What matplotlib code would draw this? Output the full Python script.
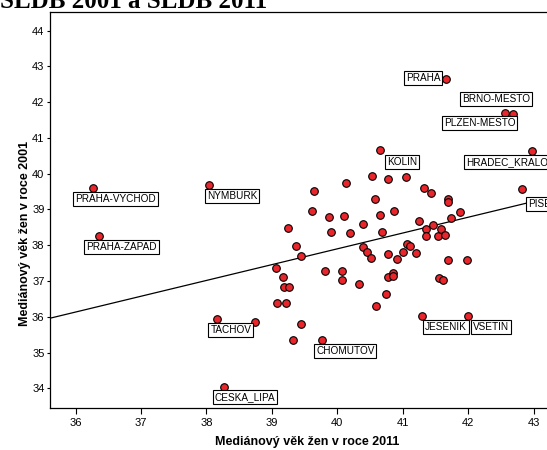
"""
Scatter of district median age of women: 2011 census vs 2001 census,
with a linear fit and labelled outlier districts.
"""

import numpy as np
import matplotlib
matplotlib.use("Agg")
import matplotlib.pyplot as plt

# median age of women per district
x_2011 = [36.26, 36.36, 38.04, 38.17, 38.27, 38.74, 39.07, 39.17, 39.18, 39.26,
          39.08, 39.22, 39.25, 39.37, 39.44, 39.44, 39.32, 39.76, 39.64, 39.61,
          39.87, 40.11, 40.14, 39.91, 40.19, 39.82, 40.08, 40.08, 40.34, 40.39,
          40.40, 40.46, 40.51, 40.53, 40.58, 40.65, 40.65, 40.68, 40.59, 40.74,
          40.77, 40.78, 40.77, 40.86, 40.86, 40.87, 40.92, 41.00, 41.06, 41.11,
          41.20, 41.05, 41.25, 41.33, 41.44, 41.36, 41.46, 41.35, 41.54, 41.59,
          41.64, 41.55, 41.62, 41.70, 41.70, 41.70, 41.74, 41.88, 41.98, 41.30,
          42.00, 41.67, 42.57, 42.69, 42.97, 42.82]
y_2001 = [39.59, 38.26, 39.67, 35.93, 34.04, 35.85, 37.35, 37.12, 36.82, 36.82,
          36.39, 36.39, 38.49, 37.98, 37.69, 35.80, 35.36, 35.35, 39.51, 38.95,
          38.78, 38.83, 39.74, 38.36, 38.34, 37.28, 37.28, 37.02, 36.92, 38.60,
          37.94, 37.82, 37.65, 39.94, 39.28, 40.66, 38.84, 38.37, 36.29, 36.65,
          39.84, 37.76, 37.10, 37.23, 37.15, 38.95, 37.61, 37.80, 38.03, 37.99,
          37.77, 39.92, 38.69, 39.61, 39.46, 38.45, 38.57, 38.26, 38.27, 38.45,
          38.30, 37.08, 37.03, 37.59, 39.30, 39.20, 38.76, 38.93, 37.58, 36.01,
          36.01, 42.65, 41.70, 41.66, 40.63, 39.57]

names = ["PRAHA-VYCHOD", "PRAHA-ZAPAD", "NYMBURK", "TACHOV", "CESKA_LIPA",
         "CHOMUTOV", "KOLIN", "JESENIK", "VSETIN", "PRAHA", "BRNO-MESTO",
         "PLZEN-MESTO", "HRADEC_KRALOVE", "PISEK"]
name_idx = [0, 1, 2, 3, 4, 17, 35, 69, 70, 71, 72, 73, 74, 75]

# box top-left offset from the point, in pixels (right, down)
box_offsets = {
    "PRAHA-VYCHOD": (-19.4, 4), "PRAHA-ZAPAD": (-15, 3.6), "NYMBURK": (-4, 3.7),
    "TACHOV": (-9, 4), "CESKA_LIPA": (-11.3, 3.3), "CHOMUTOV": (-7.4, 4),
    "KOLIN": (5, 5), "JESENIK": (1, 3.7), "VSETIN": (3, 3.7),
    "PRAHA": (-42.7, -8), "BRNO-MESTO": (-45.7, -20.4),
    "PLZEN-MESTO": (-71.3, 2), "HRADEC_KRALOVE": (-67.4, 4), "PISEK": (4.2, 7.7),
}

x_ticks = [36, 37, 38, 39, 40, 41, 42, 43]
y_ticks = [34, 35, 36, 37, 38, 39, 40, 41, 42, 43, 44]

plt.rcParams['font.family'] = ['Liberation Sans', 'DejaVu Sans']

W, H = 547, 450
fig = plt.figure(figsize=(W / 100, H / 100), dpi=100)
ax = fig.add_axes([50 / W, 42 / H, 510 / W, 396 / H])

x = np.array(x_2011)
y = np.array(y_2001)

ax.set_xlim(35.61, 43.405)
ax.set_ylim(33.45, 44.52)

# linear fit line
k, q = np.polyfit(x, y, 1)
xl = np.array(ax.get_xlim())
ax.plot(xl, k * xl + q, color='black', lw=0.9, zorder=2)

ax.scatter(x, y, s=30, color='#e8262b', edgecolors='black', linewidths=0.8, zorder=3)

pad = 2.0
for name, i in zip(names, name_idx):
    dx, dy = box_offsets[name]
    ax.annotate(name, (x[i], y[i]), xytext=(dx + pad, -(dy + pad)),
                textcoords='offset pixels', ha='left', va='top', fontsize=7.2,
                bbox=dict(boxstyle='square,pad=0.2', fc='white', ec='black', lw=0.8),
                zorder=4)

ax.set_xticks(x_ticks)
ax.set_yticks(y_ticks)
ax.tick_params(axis='x', length=4, width=0.8, labelsize=8, pad=3)
ax.tick_params(axis='y', length=2.5, width=0.8, labelsize=8, pad=1.5)
for s in ax.spines.values():
    s.set_linewidth(0.9)

ax.set_xlabel('Mediánový věk žen v roce 2011', fontsize=9, fontweight='bold')
ax.set_ylabel('Mediánový věk žen v roce 2001', fontsize=9, fontweight='bold')
ax.xaxis.set_label_coords((307 - 50) / 510, -(436 - 408) / 396)
ax.yaxis.set_label_coords(-(50 - 31) / 510, (408 - 233) / 396)

# title cut off by the top edge in the original
fig.text(0.0, 1 - 8 / H, 'SLDB 2001 a SLDB 2011', fontsize=18, fontweight='bold',
         family=['Liberation Serif', 'DejaVu Serif'], va='baseline', ha='left')

fig.savefig('out.png', dpi=100)
